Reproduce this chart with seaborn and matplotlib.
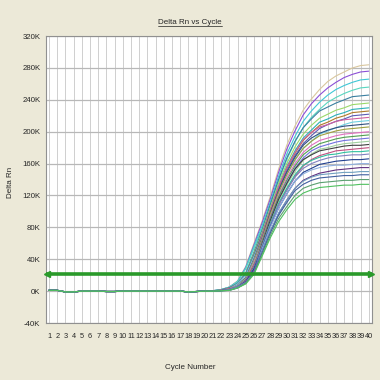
import matplotlib
matplotlib.use("Agg")
import matplotlib.pyplot as plt
from matplotlib.lines import Line2D
import pandas as pd
import seaborn as sns

# cycles 1..40, values in K (Delta Rn / 1000)
CYCLES = list(range(1, 41))

BASELINE = [1.0, 1.0, -1.0, -1.0, 0, 0, 0, -0.5, -0.5, 0,
            0, 0, 0, 0, 0, 0, 0, -1.0, -0.5, 0]

# amplification part, cycles 21..40, one list per well
WELLS = [
    [0.6, 2, 5, 13, 31, 60, 88, 119, 153, 183, 207, 227, 241, 253, 263, 270, 275, 280, 283, 284],
    [0.6, 2, 5, 12, 30, 58, 86, 116, 149, 178, 201, 221, 235, 246, 255, 262, 268, 272, 275, 276],
    [0.5, 2, 5, 12, 29, 56, 82, 112, 144, 172, 194, 213, 226, 237, 246, 253, 258, 262, 265, 266],
    [0.5, 2, 5, 12, 28, 54, 79, 108, 138, 165, 187, 205, 218, 228, 237, 243, 248, 252, 255, 256],
    [0.2, 1.5, 4, 10, 23, 49, 77, 109, 140, 167, 188, 205, 216, 226, 231, 236, 240, 244, 245, 246],
    [0.2, 1.4, 4, 9, 22, 47, 74, 105, 135, 160, 181, 197, 208, 217, 222, 227, 230, 234, 235, 236],
    [0.2, 1.4, 4, 9, 22, 46, 72, 102, 131, 156, 176, 192, 202, 212, 216, 221, 224, 228, 229, 230],
    [0.2, 1.4, 4, 9, 21, 45, 71, 101, 129, 154, 173, 189, 199, 208, 212, 217, 220, 224, 225, 226],
    [0.2, 1.3, 4, 9, 21, 44, 70, 99, 127, 151, 170, 185, 195, 204, 209, 213, 216, 220, 221, 222],
    [0, 1.1, 3, 8, 17, 41, 70, 102, 131, 155, 174, 190, 199, 206, 209, 213, 215, 216, 217, 218],
    [0.2, 1.3, 3, 9, 20, 43, 67, 95, 122, 146, 164, 179, 188, 197, 201, 205, 209, 212, 213, 214],
    [0, 1, 3, 7, 17, 40, 67, 99, 126, 149, 168, 183, 192, 198, 202, 205, 207, 208, 209, 210],
    [0, 1, 3, 7, 16, 39, 66, 97, 124, 146, 165, 179, 188, 195, 198, 201, 203, 204, 205, 206],
    [0, 1, 3, 7, 16, 38, 64, 94, 120, 142, 160, 174, 183, 189, 192, 195, 197, 198, 199, 200],
    [0, 1, 3, 7, 16, 37, 63, 92, 118, 139, 157, 171, 179, 185, 188, 191, 193, 194, 195, 196],
    [0, 1, 3, 7, 15, 36, 61, 90, 115, 136, 154, 167, 176, 181, 184, 187, 189, 190, 191, 192],
    [0, 0.9, 3, 7, 15, 36, 60, 88, 113, 133, 150, 164, 172, 178, 180, 183, 185, 186, 187, 188],
    [0, 0.7, 2, 6, 14, 31, 60, 89, 115, 135, 153, 165, 171, 176, 178, 180, 182, 183, 183, 184],
    [0, 0.9, 3, 6, 14, 34, 58, 85, 108, 128, 144, 157, 165, 170, 173, 176, 177, 178, 179, 180],
    [0, 0.7, 2, 6, 13, 30, 57, 85, 110, 129, 146, 158, 164, 168, 171, 172, 174, 175, 175, 176],
    [0, 0.7, 2, 6, 13, 29, 56, 83, 108, 126, 143, 154, 160, 164, 167, 169, 170, 171, 171, 172],
    [0, 0.7, 2, 5, 12, 28, 54, 81, 104, 122, 138, 149, 154, 159, 161, 163, 164, 165, 165, 166],
    [0, 0.5, 2, 5, 11, 25, 53, 80, 104, 122, 138, 147, 152, 155, 157, 158, 158, 159, 160, 160],
    [0, 0.6, 2, 5, 12, 26, 50, 75, 97, 114, 129, 139, 144, 148, 150, 152, 153, 154, 155, 155],
    [0, 0.5, 2, 5, 11, 24, 50, 75, 98, 114, 129, 138, 143, 146, 147, 148, 149, 149, 150, 150],
    [0, 0.4, 1, 4, 10, 23, 48, 73, 95, 111, 126, 134, 139, 142, 143, 144, 145, 145, 146, 146],
    [0, 0.4, 1, 4, 10, 22, 46, 70, 91, 106, 120, 129, 133, 136, 137, 138, 139, 139, 140, 140],
    [0, 0.4, 1, 4, 9, 21, 44, 67, 87, 102, 115, 123, 127, 130, 131, 132, 133, 133, 134, 134],
]

COLORS = ['#d9c79e', '#8c4fd6', '#3fc7d6', '#58d6c0', '#3a7fa0', '#9bd86a', '#2ab0b8',
          '#b07a2a', '#5b5bb5', '#d060a0', '#6fd0e0', '#2f4f7f', '#9fa040', '#e070c0',
          '#50a050', '#7070e0', '#a0d0a0', '#404040', '#c05080', '#30c0a0', '#8080c0',
          '#1f3f8f', '#90b0e0', '#603080', '#70a0c0', '#4060a0', '#5aa070', '#50c060']

THRESHOLD = 21
Y_TICKS = [-40, 0, 40, 80, 120, 160, 200, 240, 280, 320]

rows = []
for i, well in enumerate(WELLS):
    for c, v in zip(CYCLES, BASELINE + well):
        rows.append({'well': i, 'cycle': c, 'rn': v})
df = pd.DataFrame(rows)

sns.set_style("white")
plt.rcParams['font.family'] = ['Liberation Sans', 'DejaVu Sans']

bg = '#ece9d8'
fig = plt.figure(figsize=(3.8, 3.8), dpi=100, facecolor=bg)
ax = fig.add_axes([0.121, 0.15, 0.858, 0.755])
ax.set_facecolor('white')

sns.lineplot(data=df, x='cycle', y='rn', hue='well', palette=COLORS,
             legend=False, linewidth=0.8, ax=ax)

green = '#2a9a2a'
ax.axhline(THRESHOLD, color=green, linewidth=2.6, zorder=5)
ax.plot([0.75], [THRESHOLD], marker='<', color=green, markersize=4, zorder=6, clip_on=False)
ax.plot([40.25], [THRESHOLD], marker='>', color=green, markersize=4, zorder=6, clip_on=False)

ax.set_xlim(0.63, 40.4)
ax.set_ylim(-40, 320)
ax.set_xticks(CYCLES)
ax.set_xticklabels([str(c) for c in CYCLES], fontsize=5.3)
ax.set_yticks(Y_TICKS)
ax.set_yticklabels([f'{t}K' for t in Y_TICKS], fontsize=5.6)
ax.tick_params(axis='x', length=0, pad=7)
ax.tick_params(axis='y', length=0, pad=4)
ax.grid(True, axis='x', color='#c8c8c8', linewidth=0.6)
ax.grid(True, axis='y', color='#b8b8b8', linewidth=0.9)
ax.set_axisbelow(True)
for s in ax.spines.values():
    s.set_color('#909090')
    s.set_linewidth(0.8)

ax.set_xlabel('')
ax.set_ylabel('')
fig.text(0.5, 0.032, 'Cycle Number', ha='center', va='center', fontsize=5.8)
fig.text(0.027, 0.52, 'Delta Rn', ha='center', va='center', rotation=90, fontsize=5.8)

title = fig.text(0.5, 0.942, 'Delta Rn vs Cycle', ha='center', va='center', fontsize=5.8)
fig.canvas.draw()
bb = title.get_window_extent().transformed(fig.transFigure.inverted())
fig.add_artist(Line2D([bb.x0, bb.x1], [bb.y0 - 0.002, bb.y0 - 0.002], color='#202020', linewidth=0.5))

fig.savefig('out.png', dpi=100, facecolor=bg)
